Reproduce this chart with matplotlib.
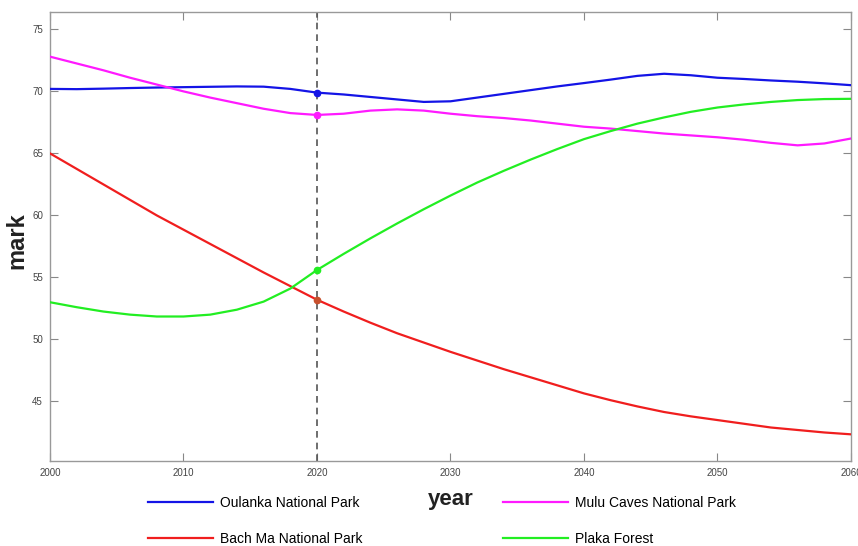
import matplotlib
matplotlib.use("Agg")
import matplotlib.pyplot as plt

plt.rcParams["font.family"] = ["Liberation Sans", "DejaVu Sans"]

years = list(range(2000, 2061, 2))

oulanka = [70.2, 70.18, 70.22, 70.27, 70.31, 70.34, 70.37, 70.4, 70.38, 70.2,
           69.9, 69.75, 69.55, 69.35, 69.15, 69.2, 69.5, 69.8, 70.1, 70.4,
           70.67, 70.95, 71.25, 71.42, 71.3, 71.1, 71.0, 70.88, 70.78, 70.65,
           70.5]
mulu = [72.8, 72.25, 71.7, 71.1, 70.55, 70.0, 69.5, 69.05, 68.6, 68.25,
        68.1, 68.2, 68.45, 68.55, 68.45, 68.2, 68.0, 67.85, 67.65, 67.4,
        67.15, 67.0, 66.8, 66.6, 66.45, 66.3, 66.1, 65.85, 65.65, 65.8,
        66.2]
bach_ma = [65.0, 63.75, 62.5, 61.25, 60.0, 58.85, 57.7, 56.55, 55.4, 54.3,
           53.2, 52.25, 51.35, 50.5, 49.75, 49.0, 48.3, 47.6, 46.95, 46.3,
           45.65, 45.1, 44.6, 44.15, 43.8, 43.5, 43.2, 42.9, 42.7, 42.5,
           42.35]
plaka = [53.0, 52.6, 52.25, 52.0, 51.85, 51.85, 52.0, 52.4, 53.05, 54.1,
         55.6, 56.9, 58.15, 59.35, 60.5, 61.6, 62.65, 63.6, 64.5, 65.35,
         66.15, 66.8, 67.4, 67.9, 68.35, 68.7, 68.95, 69.15, 69.3, 69.38,
         69.4]

names = ["Oulanka National Park", "Mulu Caves National Park",
         "Bach Ma National Park", "Plaka Forest"]
series = [oulanka, mulu, bach_ma, plaka]
colors = ["#1414e6", "#ff1aff", "#f01e1e", "#22ee22"]
marker_colors = ["#1414e6", "#ff1aff", "#c8502d", "#22ee22"]

mark_year = 2020
x_ticks = [2000, 2010, 2020, 2030, 2040, 2050, 2060]
y_ticks = [45, 50, 55, 60, 65, 70, 75]

fig = plt.figure(figsize=(8.58, 5.46), dpi=100)
ax = fig.add_axes([50 / 858, 1 - 461 / 546, 801 / 858, 449 / 546])

lines = {}
for name, vals, c, mc in zip(names, series, colors, marker_colors):
    (ln,) = ax.plot(years, vals, color=c, lw=1.6, label=name, zorder=3)
    lines[name] = ln
    i = years.index(mark_year)
    ax.plot([mark_year], [vals[i]], "o", ms=4.5, color=mc, zorder=4)

ax.axvline(mark_year, color="#555555", lw=1.2, ls=(0, (4, 3)), zorder=2)

ax.set_xlim(2000, 2060)
ax.set_ylim(40.2, 76.4)
ax.set_xticks(x_ticks)
ax.set_yticks(y_ticks)
ax.tick_params(direction="in", length=6, width=0.8, color="#888888",
               labelsize=7, labelcolor="#444444", top=True, right=True, pad=5)
for sp in ax.spines.values():
    sp.set_color("#999999")
    sp.set_linewidth(1.0)

ax.set_xlabel("year", fontsize=16, fontweight="bold", color="#222222")
ax.xaxis.set_label_coords(0.5, -0.063)
ax.set_ylabel("mark", fontsize=17, fontweight="bold", color="#222222")
ax.yaxis.set_label_coords(-0.027, 0.49)

order = [names[0], names[2], names[1], names[3]]
fig.legend([lines[n] for n in order], order, ncol=2, frameon=False,
           loc="upper left", bbox_to_anchor=(148 / 858, 1 - 496 / 546),
           borderaxespad=0, borderpad=0, fontsize=10, handlelength=4.7,
           handletextpad=0.5, labelspacing=1.55, columnspacing=10.1)

fig.savefig("out.png", dpi=100, facecolor="white")
